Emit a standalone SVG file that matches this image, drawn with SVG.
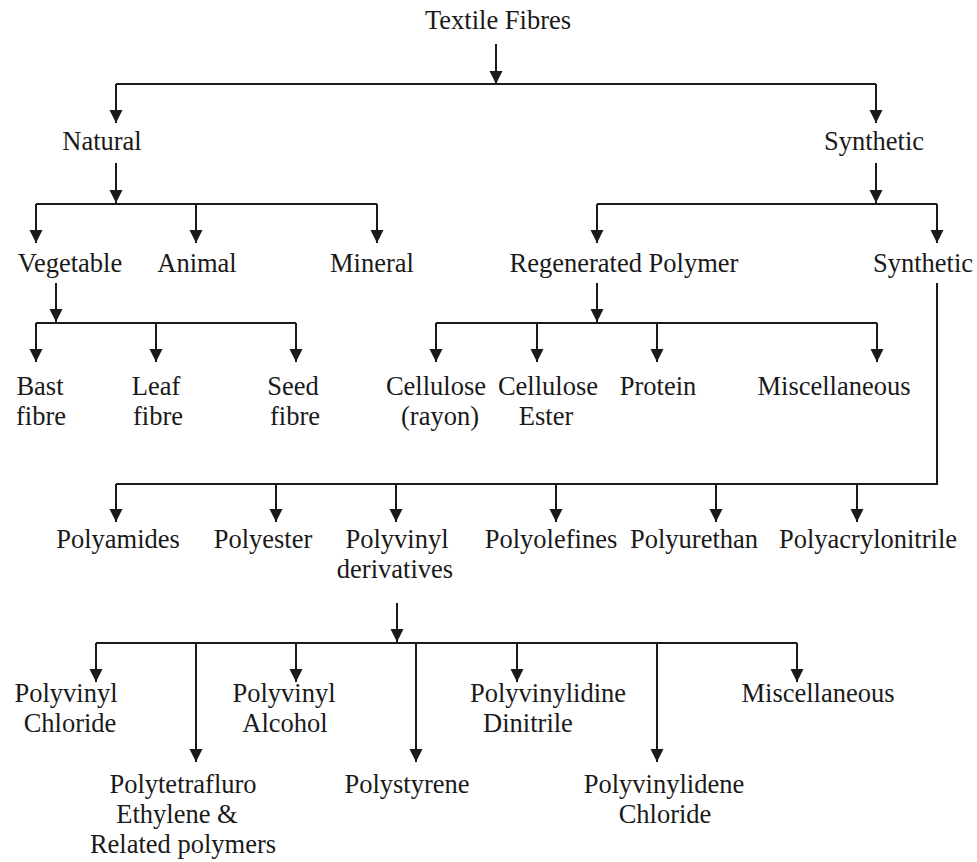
<svg xmlns="http://www.w3.org/2000/svg" width="977" height="862" viewBox="0 0 977 862">
<defs>
<marker id="ah" markerUnits="userSpaceOnUse" markerWidth="14" markerHeight="14" refX="13" refY="6.5" orient="auto">
<path d="M0,0 L13,6.5 L0,13 z" fill="#1a1a1a"/>
</marker>
</defs>
<style>
text{font-family:"Liberation Serif","Times New Roman",serif;font-size:26.5px;fill:#1a1a1a;text-anchor:middle}
.c line,.c polyline{stroke:#1a1a1a;stroke-width:2;fill:none}
.a{marker-end:url(#ah)}
</style>
<rect width="977" height="862" fill="#fff"/>
<g class="c" id="connectors">
<line class="a" x1="496" y1="44" x2="496" y2="84"/>
<polyline points="116,84 876,84"/>
<line class="a" x1="116" y1="84" x2="116" y2="123"/>
<line class="a" x1="876" y1="84" x2="876" y2="123"/>
<line class="a" x1="116" y1="163" x2="116" y2="203"/>
<polyline points="36,204 377,204"/>
<line class="a" x1="36" y1="204" x2="36" y2="243"/>
<line class="a" x1="196" y1="204" x2="196" y2="243"/>
<line class="a" x1="377" y1="204" x2="377" y2="243"/>
<line class="a" x1="876" y1="163" x2="876" y2="203"/>
<polyline points="597,204 937,204"/>
<line class="a" x1="597" y1="204" x2="597" y2="243"/>
<line class="a" x1="937" y1="204" x2="937" y2="243"/>
<line class="a" x1="56" y1="283" x2="56" y2="322"/>
<polyline points="36,323 296,323"/>
<line class="a" x1="36" y1="323" x2="36" y2="362"/>
<line class="a" x1="156" y1="323" x2="156" y2="362"/>
<line class="a" x1="296" y1="323" x2="296" y2="362"/>
<line class="a" x1="597" y1="283" x2="597" y2="322"/>
<polyline points="436,323 877,323"/>
<line class="a" x1="436" y1="323" x2="436" y2="362"/>
<line class="a" x1="537" y1="323" x2="537" y2="362"/>
<line class="a" x1="657" y1="323" x2="657" y2="362"/>
<line class="a" x1="877" y1="323" x2="877" y2="362"/>
<polyline points="937,283 937,484 116,484"/>
<line class="a" x1="116" y1="484" x2="116" y2="522"/>
<line class="a" x1="276" y1="484" x2="276" y2="522"/>
<line class="a" x1="396" y1="484" x2="396" y2="522"/>
<line class="a" x1="556" y1="484" x2="556" y2="522"/>
<line class="a" x1="716" y1="484" x2="716" y2="522"/>
<line class="a" x1="857" y1="484" x2="857" y2="522"/>
<line class="a" x1="397" y1="603" x2="397" y2="642"/>
<polyline points="96,643 797,643"/>
<line class="a" x1="96" y1="643" x2="96" y2="682"/>
<line class="a" x1="296" y1="643" x2="296" y2="682"/>
<line class="a" x1="517" y1="643" x2="517" y2="682"/>
<line class="a" x1="797" y1="643" x2="797" y2="682"/>
<line class="a" x1="196" y1="643" x2="196" y2="762"/>
<line class="a" x1="416" y1="643" x2="416" y2="762"/>
<line class="a" x1="657" y1="643" x2="657" y2="762"/>
</g>
<g id="textile"><text x="498" y="29">Textile Fibres</text></g>
<g id="natural"><text x="102" y="150">Natural</text></g>
<g id="synthetic"><text x="874" y="150">Synthetic</text></g>
<g id="vegetable"><text x="70" y="272">Vegetable</text></g>
<g id="animal"><text x="197" y="272">Animal</text></g>
<g id="mineral"><text x="372" y="272">Mineral</text></g>
<g id="regenerated"><text x="624" y="272">Regenerated Polymer</text></g>
<g id="synthetic2"><text x="923" y="272">Synthetic</text></g>
<g id="bast"><text x="40" y="395">Bast</text><text x="41" y="425">fibre</text></g>
<g id="leaf"><text x="156" y="395">Leaf</text><text x="158" y="425">fibre</text></g>
<g id="seed"><text x="293" y="395">Seed</text><text x="295" y="425">fibre</text></g>
<g id="cellulose-rayon"><text x="436" y="395">Cellulose</text><text x="440" y="425">(rayon)</text></g>
<g id="cellulose-ester"><text x="548" y="395">Cellulose</text><text x="546" y="425">Ester</text></g>
<g id="protein"><text x="658" y="395">Protein</text></g>
<g id="misc1"><text x="834" y="395">Miscellaneous</text></g>
<g id="polyamides"><text x="118" y="548">Polyamides</text></g>
<g id="polyester"><text x="263" y="548">Polyester</text></g>
<g id="polyvinyl-deriv"><text x="397" y="548">Polyvinyl</text><text x="395" y="578">derivatives</text></g>
<g id="polyolefines"><text x="551" y="548">Polyolefines</text></g>
<g id="polyurethan"><text x="694" y="548">Polyurethan</text></g>
<g id="polyacrylonitrile"><text x="868" y="548">Polyacrylonitrile</text></g>
<g id="pvc"><text x="66" y="702">Polyvinyl</text><text x="70" y="732">Chloride</text></g>
<g id="pva"><text x="284" y="702">Polyvinyl</text><text x="285" y="732">Alcohol</text></g>
<g id="pvd"><text x="548" y="702">Polyvinylidine</text><text x="528" y="732">Dinitrile</text></g>
<g id="misc2"><text x="818" y="702">Miscellaneous</text></g>
<g id="ptfe"><text x="183" y="793">Polytetrafluro</text><text x="177" y="823">Ethylene &amp;</text><text x="183" y="853">Related polymers</text></g>
<g id="polystyrene"><text x="407" y="793">Polystyrene</text></g>
<g id="pvdc"><text x="664" y="793">Polyvinylidene</text><text x="665" y="823">Chloride</text></g>
</svg>
